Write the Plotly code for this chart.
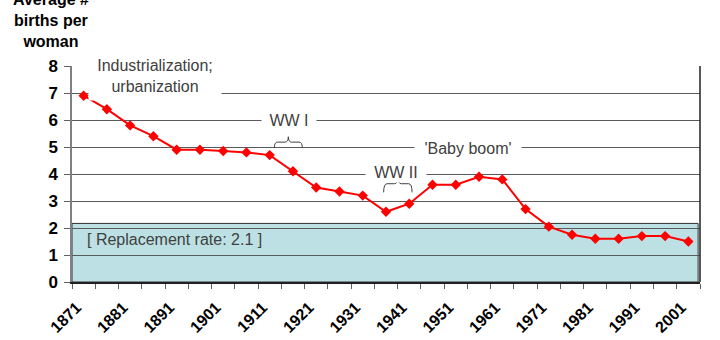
import plotly.graph_objects as go

years = list(range(1871, 2002, 5))
births = [6.9, 6.4, 5.8, 5.4, 4.9, 4.9, 4.85, 4.8, 4.7, 4.1, 3.5, 3.35, 3.2, 2.6,
          2.9, 3.6, 3.6, 3.9, 3.8, 2.7, 2.05, 1.75, 1.6, 1.6, 1.7, 1.7, 1.5]
label_years = list(range(1871, 2002, 10))
y_ticks = list(range(0, 9))
replacement_band = 2.17

FONT = "Liberation Sans, Arial, sans-serif"
TXT = "#404040"

fig = go.Figure()
fig.add_trace(go.Scatter(
    x=years, y=births, mode="lines+markers",
    line=dict(color="#ff0000", width=2),
    marker=dict(symbol="diamond", size=8, color="#ff0000"),
    hoverinfo="x+y", showlegend=False,
))

shapes = [
    dict(type="rect", xref="paper", yref="y", x0=0, x1=0.997, y0=0, y1=replacement_band,
         fillcolor="#bce0e3", line=dict(color="#303030", width=1), layer="below"),
    dict(type="line", xref="paper", yref="y", x0=1, x1=1, y0=0, y1=8,
         line=dict(color="#202020", width=1.5)),
]


def brace(x0, x1, ytip, ymid, yend):
    xm = (x0 + x1) / 2
    dx = (x1 - x0) * 0.12
    return (f"M {x0},{yend} Q {x0},{ymid} {x0+dx},{ymid} L {xm-dx},{ymid} "
            f"Q {xm},{ymid} {xm},{ytip} Q {xm},{ymid} {xm+dx},{ymid} "
            f"L {x1-dx},{ymid} Q {x1},{ymid} {x1},{yend}")


shapes.append(dict(type="path", xref="x", yref="y", path=brace(1912, 1918, 5.38, 5.18, 4.98),
                   line=dict(color=TXT, width=1)))
shapes.append(dict(type="path", xref="x", yref="y", path=brace(1935.5, 1941.6, 3.92, 3.64, 3.32),
                   line=dict(color=TXT, width=1)))

ann_font = dict(family=FONT, size=16, color=TXT)
annotations = [
    dict(xref="x", yref="y", x=1886.3, y=7.64, text="Industrialization;<br>urbanization",
         showarrow=False, font=ann_font, bgcolor="white", width=130, height=46),
    dict(xref="x", yref="y", x=1915.1, y=5.98, text="WW I", showarrow=False, font=ann_font,
         bgcolor="white", width=52),
    dict(xref="x", yref="y", x=1938.1, y=4.07, text="WW II", showarrow=False, font=ann_font,
         bgcolor="white", width=58),
    dict(xref="x", yref="y", x=1953.7, y=4.95, text="'Baby boom'", showarrow=False,
         font=ann_font, bgcolor="white", width=104),
    dict(xref="x", yref="y", x=1871.2, y=1.58, xanchor="left", text="[ Replacement rate: 2.1 ]",
         showarrow=False, font=ann_font),
    dict(xref="paper", yref="paper", x=-0.033, y=1.066, xanchor="center", yanchor="bottom",
         text="<b>Average #<br>births per<br>woman</b>", showarrow=False,
         font=dict(family=FONT, size=16, color="black")),
]

fig.update_layout(
    width=720, height=340,
    margin=dict(l=72, r=20, t=66, b=58),
    paper_bgcolor="white", plot_bgcolor="white",
    font=dict(family=FONT, color="black"),
    shapes=shapes, annotations=annotations,
    xaxis=dict(
        range=[1868.5, 2003.5], tickmode="array", tickvals=label_years,
        ticktext=[f"<b>{y}</b>" for y in label_years], tickangle=-45,
        tickfont=dict(family=FONT, size=16, color="black"),
        ticks="", ticklabelstandoff=8, ticklabelshift=-7, automargin=False,
        showgrid=False, zeroline=False, showline=True, linecolor="#202020", linewidth=1.5,
        minor=dict(tickmode="linear", tick0=1868.5, dtick=5, ticks="outside", ticklen=5,
                   tickcolor="#606060", tickwidth=1, showgrid=False),
    ),
    yaxis=dict(
        range=[0, 8], tickmode="array", tickvals=y_ticks,
        ticktext=[f"<b>{v}</b>" for v in y_ticks],
        tickfont=dict(family=FONT, size=17, color="black"),
        ticks="outside", ticklen=6, tickcolor="#606060", ticklabelstandoff=3,
        automargin=False,
        showgrid=True, gridcolor="#5a5a5a", gridwidth=1, zeroline=False,
        showline=True, linecolor="#808080", linewidth=1.5,
    ),
)

fig.write_html("out.html")
